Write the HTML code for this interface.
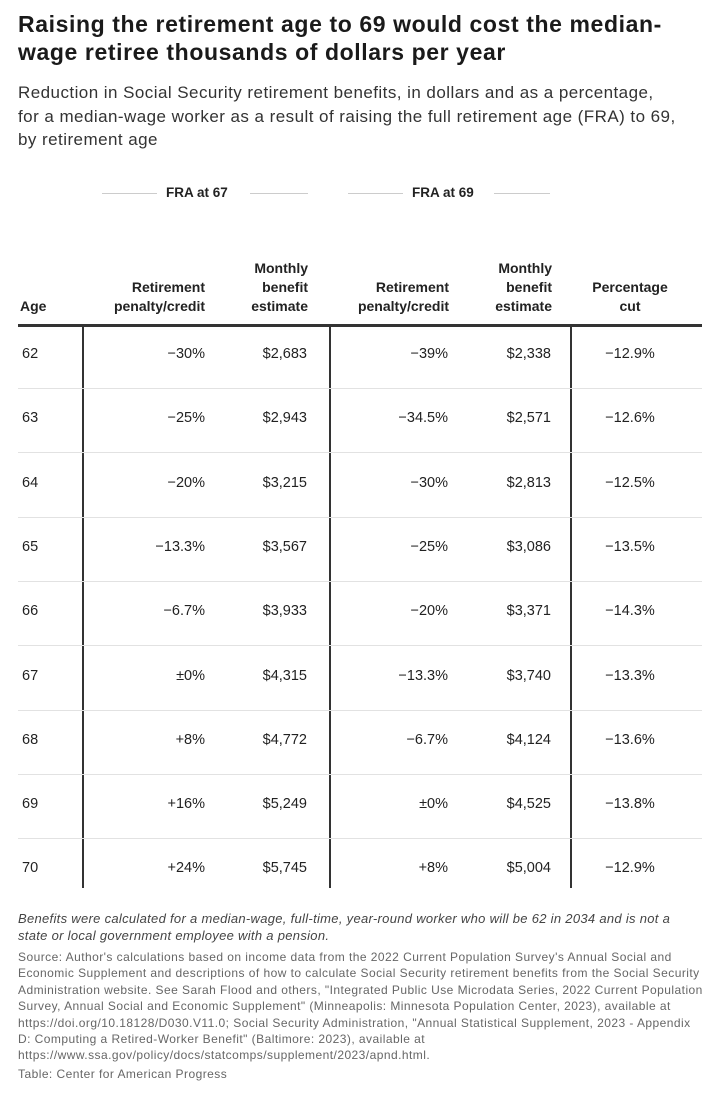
<!DOCTYPE html>
<html><head><meta charset="utf-8"><style>
body{margin:0;width:720px;height:1097px;background:#fff;font-family:"Liberation Sans",sans-serif;color:#222;position:relative;overflow:hidden}
.a{position:absolute;white-space:nowrap}
h1{position:absolute;left:18px;top:10px;margin:0;font-size:23px;line-height:28px;font-weight:bold;color:#1a1a1a;letter-spacing:0.6px;white-space:nowrap}
.sub{left:18px;top:81px;font-size:17px;line-height:23.5px;color:#333;letter-spacing:0.45px}
.grp{font-size:13.5px;font-weight:bold;top:185px}
.ln{position:absolute;height:1px;background:#ccc;top:193px}
.hd{font-size:14px;font-weight:bold;line-height:19px;top:250px;height:66px;display:flex;align-items:flex-end}
.r{text-align:right}
.c{text-align:center}
.cell{position:absolute;font-size:14.5px}
.sep{position:absolute;left:18px;width:684px;height:1px;background:#e2e2e2}
.v{position:absolute;width:2px;background:#333;top:325px;height:563px}
.note{left:18px;font-size:12px;line-height:16.4px;color:#666;letter-spacing:0.45px}
</style></head><body>
<h1>Raising the retirement age to 69 would cost the median-<br>wage retiree thousands of dollars per year</h1>
<div class="a sub">Reduction in Social Security retirement benefits, in dollars and as a percentage,<br>for a median-wage worker as a result of raising the full retirement age (FRA) to 69,<br>by retirement age</div>

<div class="ln" style="left:102px;width:55px"></div>
<div class="a grp" style="left:166px">FRA at 67</div>
<div class="ln" style="left:250px;width:58px"></div>
<div class="ln" style="left:348px;width:55px"></div>
<div class="a grp" style="left:412px">FRA at 69</div>
<div class="ln" style="left:494px;width:56px"></div>

<div class="a hd" style="left:20px">Age</div>
<div class="a hd r" style="left:90px;width:115px;justify-content:flex-end">Retirement<br>penalty/credit</div>
<div class="a hd r" style="left:215px;width:93px;justify-content:flex-end">Monthly<br>benefit<br>estimate</div>
<div class="a hd r" style="left:335px;width:114px;justify-content:flex-end">Retirement<br>penalty/credit</div>
<div class="a hd r" style="left:460px;width:92px;justify-content:flex-end">Monthly<br>benefit<br>estimate</div>
<div class="a hd c" style="left:575px;width:110px;justify-content:center">Percentage<br>cut</div>
<div style="position:absolute;left:18px;top:324px;width:684px;height:3px;background:#333"></div>
<div class="v" style="left:82px"></div>
<div class="v" style="left:329px"></div>
<div class="v" style="left:570px"></div>

<div id="rows"></div>
<script>
var d=[["62","−30%","$2,683","−39%","$2,338","−12.9%"],["63","−25%","$2,943","−34.5%","$2,571","−12.6%"],["64","−20%","$3,215","−30%","$2,813","−12.5%"],["65","−13.3%","$3,567","−25%","$3,086","−13.5%"],["66","−6.7%","$3,933","−20%","$3,371","−14.3%"],["67","±0%","$4,315","−13.3%","$3,740","−13.3%"],["68","+8%","$4,772","−6.7%","$4,124","−13.6%"],["69","+16%","$5,249","±0%","$4,525","−13.8%"],["70","+24%","$5,745","+8%","$5,004","−12.9%"]];
var h="";
for(var i=0;i<d.length;i++){var y=346+i*64.3;var r=d[i];
h+='<div class="cell" style="left:22px;top:'+y+'px">'+r[0]+'</div>';
h+='<div class="cell r" style="left:100px;width:105px;top:'+y+'px">'+r[1]+'</div>';
h+='<div class="cell r" style="left:210px;width:97px;top:'+y+'px">'+r[2]+'</div>';
h+='<div class="cell r" style="left:340px;width:108px;top:'+y+'px">'+r[3]+'</div>';
h+='<div class="cell r" style="left:455px;width:96px;top:'+y+'px">'+r[4]+'</div>';
h+='<div class="cell c" style="left:575px;width:110px;top:'+y+'px">'+r[5]+'</div>';
if(i<d.length-1)h+='<div class="sep" style="top:'+(y+42)+'px"></div>';}
document.getElementById("rows").innerHTML=h;
</script>

<div class="a note" style="top:910px;font-style:italic;font-size:13px;line-height:17px;color:#444;letter-spacing:0.3px">Benefits were calculated for a median-wage, full-time, year-round worker who will be 62 in 2034 and is not a<br>state or local government employee with a pension.</div>
<div class="a note" style="top:949px">Source: Author's calculations based on income data from the 2022 Current Population Survey's Annual Social and<br>Economic Supplement and descriptions of how to calculate Social Security retirement benefits from the Social Security<br>Administration website. See Sarah Flood and others, "Integrated Public Use Microdata Series, 2022 Current Population<br>Survey, Annual Social and Economic Supplement" (Minneapolis: Minnesota Population Center, 2023), available at<br>https://doi.org/10.18128/D030.V11.0; Social Security Administration, "Annual Statistical Supplement, 2023 - Appendix<br>D: Computing a Retired-Worker Benefit" (Baltimore: 2023), available at<br>https://www.ssa.gov/policy/docs/statcomps/supplement/2023/apnd.html.</div>
<div class="a note" style="top:1066px">Table: Center for American Progress</div>
</body></html>
